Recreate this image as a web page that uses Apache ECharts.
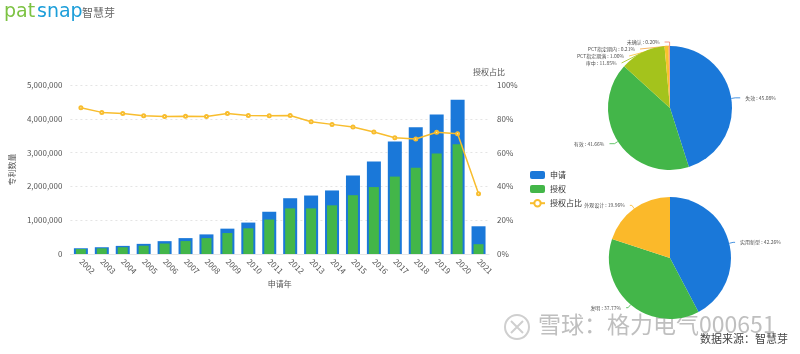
<!DOCTYPE html>
<html>
<head>
<meta charset="utf-8">
<script src="https://cdn.jsdelivr.net/npm/echarts@6/dist/echarts.min.js"></script>
<style>
  html, body { margin: 0; padding: 0; background: #fff; }
  #main { width: 800px; height: 354px; }
</style>
</head>
<body>
<div id="main"></div>
<script>
// 申请年
const years = ['2002', '2003', '2004', '2005', '2006', '2007', '2008', '2009', '2010', '2011',
  '2012', '2013', '2014', '2015', '2016', '2017', '2018', '2019', '2020', '2021'];
// 申请 / 授权 数量
const applied = [170000, 200000, 240000, 300000, 380000, 470000, 580000, 750000, 930000, 1250000,
  1650000, 1730000, 1880000, 2320000, 2740000, 3330000, 3750000, 4130000, 4560000, 820000];
const granted = [147000, 168000, 200000, 245000, 310000, 383000, 470000, 620000, 760000, 1020000,
  1350000, 1350000, 1440000, 1740000, 1980000, 2290000, 2550000, 2970000, 3250000, 290000];
// 授权占比 (%)
const grantRatio = [86.6, 83.8, 83.2, 81.8, 81.3, 81.5, 81.3, 83.2, 82.0, 81.8,
  82.0, 78.3, 76.7, 75.1, 72.2, 68.8, 68.0, 72.0, 71.2, 35.7];

// 法律状态 (%)
const statusNames = ['失效', '有效', '审中', 'PCT指定期满', 'PCT指定期内', '未确认'];
const statusValues = [45.08, 41.66, 11.85, 1.00, 0.21, 0.20];
// 专利类型 (%)
const typeNames = ['实用新型', '发明', '外观设计'];
const typeValues = [42.26, 37.77, 19.96];

const blue = '#1a78d9';
const green = '#43b649';
const yellow = '#f8bd2e';
const font = "'Noto Sans CJK SC', 'Noto Sans', sans-serif";

const chart = echarts.init(document.getElementById('main'));

const axisText = { color: '#555', fontSize: 8, fontFamily: font };
const pieLabel = {
  formatter: p => p.name + ' : ' + p.value.toFixed(2) + '%',
  fontSize: 5,
  color: '#555',
  fontFamily: font
};

chart.setOption({
  animation: false,
  textStyle: { fontFamily: font },
  graphic: [
    { type: 'text', left: 4, top: 3, style: { text: 'pat', fill: '#7cc242', font: '19px "DejaVu Sans", sans-serif' } },
    { type: 'text', left: 37, top: 3, style: { text: 'snap', fill: '#1c9ed9', font: '19px "DejaVu Sans", sans-serif' } },
    { type: 'text', left: 82, top: 7, style: { text: '智慧芽', fill: '#666', font: '11px ' + font } },
    { type: 'circle', shape: { cx: 517, cy: 327, r: 12 }, style: { fill: 'none', stroke: '#cfcfcf', lineWidth: 2 } },
    { type: 'polyline', shape: { points: [[511, 321], [517, 327], [511, 333]] }, style: { fill: 'none', stroke: '#cfcfcf', lineWidth: 2 } },
    { type: 'polyline', shape: { points: [[523, 321], [517, 327], [523, 333]] }, style: { fill: 'none', stroke: '#cfcfcf', lineWidth: 2 } },
    { type: 'text', left: 538, top: 313, style: { text: '雪球：格力电气000651', fill: 'rgba(180,180,180,0.85)', font: '23px ' + font } },
    { type: 'text', left: 700, top: 333, style: { text: '数据来源：智慧芽', fill: '#444', font: '11px ' + font } }
  ],
  legend: {
    orient: 'vertical',
    left: 524,
    top: 166,
    itemWidth: 15,
    itemHeight: 8,
    itemGap: 6,
    textStyle: { color: '#333', fontSize: 8, fontFamily: font },
    data: [
      { name: '申请', icon: 'roundRect' },
      { name: '授权', icon: 'roundRect' },
      { name: '授权占比' }
    ]
  },
  grid: { left: 62, right: 311, top: 85, bottom: 100 },
  xAxis: [
    {
      type: 'category',
      data: years,
      name: '申请年',
      nameLocation: 'middle',
      nameGap: 26,
      nameTextStyle: axisText,
      axisLine: { lineStyle: { color: '#e6e6e6' } },
      axisTick: { show: false },
      axisLabel: Object.assign({ rotate: -45, margin: 6, interval: 0 }, axisText)
    },
    {
      type: 'category',
      data: years,
      show: false
    }
  ],
  yAxis: [
    {
      type: 'value',
      min: 0,
      max: 5000000,
      interval: 1000000,
      name: '专利数量',
      nameLocation: 'middle',
      nameGap: 42,
      nameTextStyle: axisText,
      axisLine: { show: false },
      axisTick: { show: false },
      axisLabel: Object.assign({
        formatter: v => v.toLocaleString('en-US')
      }, axisText),
      splitLine: { lineStyle: { color: '#e4e4e4', type: [2, 3] } }
    },
    {
      type: 'value',
      min: 0,
      max: 100,
      interval: 20,
      name: '授权占比',
      nameGap: 9,
      nameTextStyle: axisText,
      axisLine: { show: false },
      axisTick: { show: false },
      axisLabel: Object.assign({ formatter: '{value}%' }, axisText),
      splitLine: { show: false }
    }
  ],
  series: [
    {
      name: '申请',
      type: 'bar',
      xAxisIndex: 0,
      yAxisIndex: 0,
      barWidth: 14,
      itemStyle: { color: blue },
      data: applied
    },
    {
      name: '授权',
      type: 'bar',
      xAxisIndex: 1,
      yAxisIndex: 0,
      barWidth: 10,
      itemStyle: { color: green },
      data: granted
    },
    {
      name: '授权占比',
      type: 'line',
      xAxisIndex: 0,
      yAxisIndex: 1,
      symbol: 'emptyCircle',
      symbolSize: 3,
      lineStyle: { color: yellow, width: 1.5 },
      itemStyle: { color: yellow },
      data: grantRatio
    },
    {
      name: '法律状态',
      type: 'pie',
      center: [670, 108],
      radius: 62,
      startAngle: 90,
      color: [blue, green, '#a4c31c', '#f9c22c', '#f6a33a', '#f47c6a'],
      label: pieLabel,
      labelLine: { length: 4, length2: 5, lineStyle: { width: 0.8 } },
      data: statusNames.map((n, i) => ({ name: n, value: statusValues[i] }))
    },
    {
      name: '专利类型',
      type: 'pie',
      center: [670, 258],
      radius: 61,
      startAngle: 90,
      color: [blue, green, '#fbb92a'],
      label: pieLabel,
      labelLine: { length: 4, length2: 2, lineStyle: { width: 0.8 } },
      data: typeNames.map((n, i) => ({ name: n, value: typeValues[i] }))
    }
  ]
});
</script>
</body>
</html>
